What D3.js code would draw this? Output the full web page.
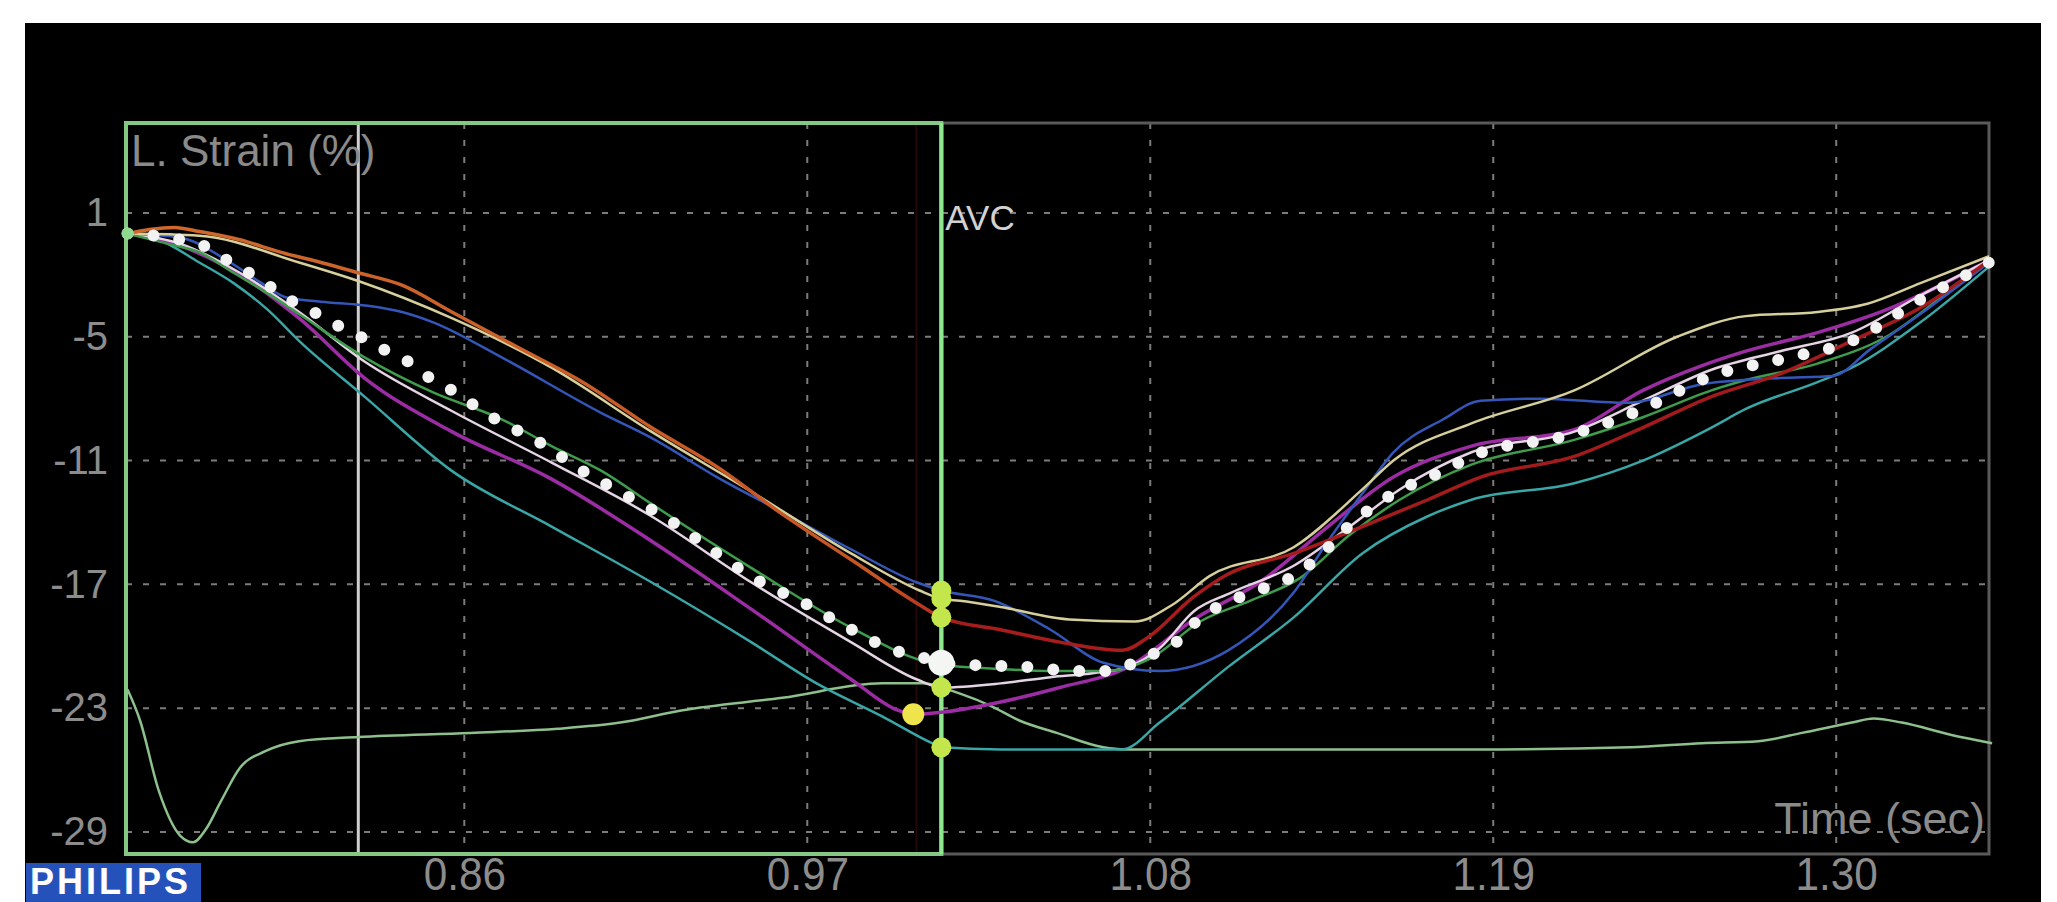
<!DOCTYPE html>
<html>
<head>
<meta charset="utf-8">
<script src="https://cdn.jsdelivr.net/npm/d3@7"></script>
<style>
  body { margin: 0; background: #fff; }
  svg { display: block; font-family: "Liberation Sans", Arial, sans-serif; }
</style>
</head>
<body>
<div id="chart"></div>
<script>
const strainTicks = [1, -5, -11, -17, -23, -29];
const timeTicks = [0.86, 0.97, 1.08, 1.19, 1.30];
const timeWindow = [0.7515, 1.349];
const strainWindow = [5.36, -30.07];
const avcTime = 1.013;
const markerTime = 0.826;
const peakLineTime = 1.005;

// segment traces, [time (sec), strain (%)]
const segOrange = [[0.752, 0.0], [0.759, 0.2], [0.767, 0.3], [0.775, 0.1], [0.788, -0.3], [0.801, -0.9], [0.814, -1.4], [0.826, -1.9], [0.840, -2.5], [0.856, -3.8], [0.877, -5.5], [0.898, -7.2], [0.920, -9.4], [0.941, -11.3], [0.962, -13.6], [0.984, -15.8], [1.005, -17.9], [1.013, -18.6], [1.032, -19.2], [1.051, -19.8], [1.071, -20.2], [1.079, -19.6], [1.094, -17.6], [1.105, -16.5], [1.126, -15.5], [1.148, -14.2], [1.169, -12.9], [1.186, -11.8], [1.216, -10.8], [1.238, -9.4], [1.260, -7.9], [1.282, -6.8], [1.305, -5.2], [1.327, -3.6], [1.349, -1.3]];
const segBeige = [[0.752, 0.0], [0.775, -0.1], [0.807, -1.4], [0.826, -2.3], [0.856, -4.1], [0.888, -6.5], [0.920, -9.6], [0.952, -12.5], [0.984, -15.5], [1.006, -17.3], [1.013, -17.7], [1.019, -17.8], [1.032, -18.1], [1.054, -18.7], [1.075, -18.8], [1.087, -18.0], [1.099, -16.6], [1.126, -15.2], [1.148, -12.4], [1.158, -11.0], [1.183, -9.2], [1.216, -7.6], [1.249, -5.0], [1.271, -4.0], [1.294, -3.8], [1.310, -3.4], [1.327, -2.4], [1.349, -1.1]];
const segBlue = [[0.752, 0.0], [0.769, -0.2], [0.785, -1.4], [0.795, -2.4], [0.803, -3.1], [0.814, -3.3], [0.829, -3.5], [0.840, -3.8], [0.850, -4.3], [0.872, -6.0], [0.904, -8.7], [0.920, -9.9], [0.941, -11.8], [0.962, -13.5], [0.984, -15.3], [1.005, -16.9], [1.013, -17.3], [1.030, -17.8], [1.048, -19.2], [1.065, -20.8], [1.083, -21.2], [1.105, -20.2], [1.126, -17.4], [1.137, -14.9], [1.148, -12.6], [1.158, -10.6], [1.174, -9.0], [1.186, -8.1], [1.205, -8.0], [1.233, -8.2], [1.257, -7.3], [1.282, -7.0], [1.299, -6.9], [1.311, -5.6], [1.327, -3.9], [1.349, -1.4]];
const segGreen = [[0.752, 0.0], [0.765, -0.5], [0.775, -0.9], [0.786, -1.9], [0.797, -2.9], [0.807, -3.9], [0.828, -6.0], [0.850, -7.7], [0.872, -9.0], [0.888, -10.3], [0.904, -11.5], [0.920, -13.1], [0.952, -16.2], [0.984, -19.1], [1.007, -20.7], [1.013, -20.9], [1.032, -21.1], [1.048, -21.2], [1.066, -21.2], [1.080, -20.6], [1.096, -18.8], [1.112, -17.8], [1.128, -16.7], [1.144, -14.6], [1.160, -12.9], [1.183, -11.2], [1.216, -10.0], [1.238, -8.9], [1.260, -7.6], [1.271, -7.1], [1.294, -6.3], [1.316, -5.0], [1.337, -2.7], [1.349, -1.4]];
const segWhite = [[0.752, 0.0], [0.769, -0.5], [0.788, -1.9], [0.807, -3.8], [0.828, -6.2], [0.856, -8.6], [0.888, -11.1], [0.920, -13.7], [0.952, -16.9], [0.984, -19.8], [1.005, -21.6], [1.013, -22.0], [1.032, -21.8], [1.048, -21.5], [1.062, -21.3], [1.073, -21.0], [1.083, -20.1], [1.094, -18.3], [1.106, -17.4], [1.126, -16.1], [1.144, -14.2], [1.160, -12.4], [1.183, -10.6], [1.216, -9.6], [1.238, -8.1], [1.260, -6.6], [1.282, -5.7], [1.305, -4.8], [1.327, -3.0], [1.349, -1.3]];
const segPurple = [[0.752, 0.0], [0.769, -0.6], [0.788, -2.0], [0.807, -4.1], [0.828, -7.0], [0.856, -9.6], [0.888, -11.9], [0.920, -14.9], [0.952, -18.2], [0.984, -21.6], [0.999, -23.1], [1.004, -23.3], [1.013, -23.2], [1.032, -22.7], [1.051, -22.0], [1.073, -21.0], [1.094, -18.7], [1.116, -16.8], [1.137, -14.2], [1.158, -11.8], [1.183, -10.3], [1.216, -9.5], [1.238, -7.6], [1.257, -6.4], [1.271, -5.7], [1.294, -4.8], [1.316, -3.7], [1.349, -1.3]];
const segCyan = [[0.752, 0.0], [0.762, -0.3], [0.775, -1.4], [0.786, -2.4], [0.797, -3.7], [0.807, -5.2], [0.828, -7.9], [0.856, -11.5], [0.888, -14.2], [0.920, -16.9], [0.952, -19.8], [0.973, -21.8], [0.994, -23.4], [1.010, -24.7], [1.013, -24.9], [1.032, -25.0], [1.051, -25.0], [1.071, -25.0], [1.083, -23.7], [1.105, -21.0], [1.126, -18.6], [1.148, -15.5], [1.169, -13.7], [1.183, -12.9], [1.216, -12.1], [1.238, -11.0], [1.260, -9.4], [1.271, -8.5], [1.294, -7.2], [1.305, -6.5], [1.327, -4.3], [1.349, -1.6]];
const segAverage = [[0.752, 0.0], [0.769, -0.3], [0.778, -0.7], [0.784, -1.3], [0.791, -1.9], [0.798, -2.6], [0.805, -3.3], [0.813, -3.9], [0.820, -4.5], [0.828, -5.1], [0.834, -5.6], [0.842, -6.2], [0.848, -6.9], [0.856, -7.6], [0.869, -8.9], [0.884, -10.1], [0.898, -11.5], [0.912, -12.7], [0.927, -14.0], [0.940, -15.4], [0.954, -16.8], [0.969, -17.9], [0.983, -19.1], [0.998, -20.2], [1.006, -20.5], [1.013, -20.8], [1.022, -20.9], [1.040, -21.0], [1.057, -21.2], [1.066, -21.2], [1.075, -20.8], [1.082, -20.3], [1.090, -19.6], [1.096, -18.6], [1.103, -18.0], [1.118, -17.1], [1.126, -16.6], [1.133, -15.8], [1.145, -14.0], [1.158, -12.6], [1.174, -11.5], [1.183, -10.8], [1.216, -9.7], [1.238, -8.5], [1.260, -6.9], [1.282, -6.1], [1.305, -5.2], [1.327, -3.2], [1.343, -1.9], [1.349, -1.4]];
// ecg overlay, drawn on the strain scale
const ecgTrace = [[0.752, -22.1], [0.756, -23.6], [0.762, -27.0], [0.769, -29.2], [0.773, -29.5], [0.777, -28.9], [0.782, -27.5], [0.788, -25.9], [0.796, -25.1], [0.807, -24.6], [0.826, -24.4], [0.862, -24.2], [0.890, -24.0], [0.910, -23.7], [0.930, -23.1], [0.962, -22.5], [0.994, -21.8], [1.007, -21.8], [1.019, -22.3], [1.029, -22.9], [1.038, -23.6], [1.050, -24.2], [1.065, -24.9], [1.072, -25.0], [1.128, -25.0], [1.192, -25.0], [1.234, -24.9], [1.257, -24.7], [1.275, -24.6], [1.289, -24.2], [1.305, -23.7], [1.312, -23.5], [1.321, -23.7], [1.337, -24.3], [1.350, -24.7]];

const segmentColors = {
  beige: `#d6cf9c`,
  blue: `#3456b8`,
  orange: `url(#orangeRed)`,
  green: `#3e9c4c`,
  white: `#e4d4e4`,
  purple: `#9c2ca4`,
  cyan: `#3aa6a6`
};

class StrainChart {
  constructor(el) {
    this.el = el;
    this.width = 2057;
    this.height = 902;
    this.segments = [
      { key: `cyan`, data: segCyan },
      { key: `purple`, data: segPurple },
      { key: `white`, data: segWhite },
      { key: `green`, data: segGreen },
      { key: `blue`, data: segBlue },
      { key: `beige`, data: segBeige },
      { key: `orange`, data: segOrange }
    ];
  }

  render() {
    this.svg = d3.select(this.el).append(`svg`)
      .attr(`width`, this.width)
      .attr(`height`, this.height);

    this.x = d3.scaleLinear().domain(timeWindow).range([126, 1989]);
    this.y = d3.scaleLinear().domain(strainWindow).range([123, 854]);
    this.line = d3.line()
      .x((d) => this.x(d[0]))
      .y((d) => this.y(d[1]))
      .curve(d3.curveMonotoneX);

    this.drawBackground();
    this.drawGrid();
    this.drawFrame();
    this.drawTraces();
    this.drawMarkers();
    this.drawAxes();
    this.drawLabels();
  }

  drawBackground() {
    this.svg.append(`rect`)
      .attr(`width`, this.width).attr(`height`, this.height).attr(`fill`, `#fff`);
    this.svg.append(`rect`)
      .attr(`x`, 25).attr(`y`, 23)
      .attr(`width`, 2016).attr(`height`, this.height - 23)
      .attr(`fill`, `#000`);
  }

  drawGrid() {
    const g = this.svg.append(`g`).attr(`class`, `grid`);
    const [t0, t1] = timeWindow.map(this.x);
    const [s0, s1] = strainWindow.map(this.y);

    g.selectAll(`.grid__h`)
        .data(strainTicks)
      .enter().append(`line`)
        .attr(`class`, `grid__h`)
        .attr(`x1`, t0).attr(`x2`, t1)
        .attr(`y1`, (d) => this.y(d)).attr(`y2`, (d) => this.y(d));

    g.selectAll(`.grid__v`)
        .data(timeTicks)
      .enter().append(`line`)
        .attr(`class`, `grid__v`)
        .attr(`x1`, (d) => this.x(d)).attr(`x2`, (d) => this.x(d))
        .attr(`y1`, s0).attr(`y2`, s1);

    g.selectAll(`line`)
      .attr(`stroke`, `#7c7c7c`)
      .attr(`stroke-width`, 2)
      .attr(`stroke-dasharray`, `6 11`);
  }

  drawFrame() {
    const [t0, t1] = timeWindow.map(this.x);
    const [s0, s1] = strainWindow.map(this.y);
    const avc = this.x(avcTime);

    this.svg.append(`rect`)
      .attr(`x`, t0).attr(`y`, s0)
      .attr(`width`, t1 - t0).attr(`height`, s1 - s0)
      .attr(`fill`, `none`).attr(`stroke`, `#5a5a5a`).attr(`stroke-width`, 3);

    this.svg.append(`line`)
      .attr(`x1`, this.x(peakLineTime)).attr(`x2`, this.x(peakLineTime))
      .attr(`y1`, s0).attr(`y2`, s1)
      .attr(`stroke`, `#240709`).attr(`stroke-width`, 2);

    this.svg.append(`line`)
      .attr(`x1`, this.x(markerTime)).attr(`x2`, this.x(markerTime))
      .attr(`y1`, s0).attr(`y2`, s1)
      .attr(`stroke`, `#cfcfcf`).attr(`stroke-width`, 3);

    this.svg.append(`rect`)
      .attr(`x`, t0).attr(`y`, s0)
      .attr(`width`, avc - t0).attr(`height`, s1 - s0)
      .attr(`fill`, `none`).attr(`stroke`, `#84c884`).attr(`stroke-width`, 4);

    this.svg.append(`line`)
      .attr(`x1`, avc).attr(`x2`, avc)
      .attr(`y1`, s0).attr(`y2`, s1)
      .attr(`stroke`, `#8ee68e`).attr(`stroke-width`, 4);
  }

  drawTraces() {
    const [t0, t1] = timeWindow.map(this.x);
    const split = (this.x(avcTime) - t0) / (t1 - t0);

    const grad = this.svg.append(`defs`).append(`linearGradient`)
      .attr(`id`, `orangeRed`)
      .attr(`gradientUnits`, `userSpaceOnUse`)
      .attr(`x1`, t0).attr(`x2`, t1).attr(`y1`, 0).attr(`y2`, 0);
    grad.append(`stop`).attr(`offset`, 0).attr(`stop-color`, `#cf6a2c`);
    grad.append(`stop`).attr(`offset`, split - 0.03).attr(`stop-color`, `#c65524`);
    grad.append(`stop`).attr(`offset`, split + 0.01).attr(`stop-color`, `#a81c1c`);
    grad.append(`stop`).attr(`offset`, 1).attr(`stop-color`, `#a01a1e`);

    this.svg.append(`path`)
      .datum(ecgTrace)
      .attr(`d`, this.line)
      .attr(`fill`, `none`)
      .attr(`stroke`, `#8ec08e`)
      .attr(`stroke-width`, 2.5);

    this.svg.selectAll(`.segment`)
        .data(this.segments)
      .enter().append(`path`)
        .attr(`class`, (d) => `segment segment--${d.key}`)
        .attr(`d`, (d) => this.line(d.data))
        .attr(`fill`, `none`)
        .attr(`stroke`, (d) => segmentColors[d.key])
        .attr(`stroke-width`, (d) => (d.key === `orange` || d.key === `purple`) ? 3.5 : 2.5)
        .attr(`stroke-linejoin`, `round`);

    this.svg.append(`path`)
      .datum(segAverage)
      .attr(`d`, this.line)
      .attr(`fill`, `none`)
      .attr(`stroke`, `#f2f2f2`)
      .attr(`stroke-width`, 12)
      .attr(`stroke-linecap`, `round`)
      .attr(`stroke-dasharray`, `0 26`);
  }

  valueAt(data, t) {
    const i = d3.bisector((d) => d[0]).left(data, t);
    if (i <= 0) return data[0][1];
    if (i >= data.length) return data[data.length - 1][1];
    const a = data[i - 1];
    const b = data[i];
    return a[1] + (b[1] - a[1]) * (t - a[0]) / (b[0] - a[0]);
  }

  drawMarkers() {
    const avc = this.x(avcTime);
    const atAvc = this.segments.filter((d) => d.key !== `purple`);
    const peak = d3.least(segPurple.filter((d) => d[0] <= avcTime), (d) => d[1]);

    this.svg.append(`circle`)
      .attr(`cx`, this.x(segAverage[0][0])).attr(`cy`, this.y(segAverage[0][1]))
      .attr(`r`, 6).attr(`fill`, `#8fd88f`);

    this.svg.selectAll(`.avc-dot`)
        .data(atAvc)
      .enter().append(`circle`)
        .attr(`class`, `avc-dot`)
        .attr(`cx`, avc)
        .attr(`cy`, (d) => this.y(this.valueAt(d.data, avcTime)))
        .attr(`r`, 10)
        .attr(`fill`, `#c2e64c`);

    this.svg.append(`circle`)
      .attr(`cx`, this.x(peak[0])).attr(`cy`, this.y(peak[1]))
      .attr(`r`, 11).attr(`fill`, `#f0e44c`);

    this.svg.append(`circle`)
      .attr(`cx`, avc).attr(`cy`, this.y(this.valueAt(segAverage, avcTime)))
      .attr(`r`, 13).attr(`fill`, `#f4f6f4`);
  }

  drawAxes() {
    const yAxis = d3.axisLeft(this.y)
      .tickValues(strainTicks)
      .tickFormat((d) => `${d}`)
      .tickSize(0)
      .tickPadding(18);

    const yg = this.svg.append(`g`)
      .attr(`transform`, `translate(${this.x(timeWindow[0])},0)`)
      .call(yAxis);
    yg.select(`.domain`).remove();
    yg.selectAll(`text`)
      .attr(`fill`, `#8c8c8c`)
      .style(`font-size`, `40px`)
      .style(`font-family`, `"Liberation Sans", Arial, sans-serif`);

    const xAxis = d3.axisBottom(this.x)
      .tickValues(timeTicks)
      .tickFormat(d3.format(`.2f`))
      .tickSize(0)
      .tickPadding(3);

    const xg = this.svg.append(`g`)
      .attr(`transform`, `translate(0,${this.y(strainWindow[1])})`)
      .call(xAxis);
    xg.select(`.domain`).remove();
    xg.selectAll(`text`)
      .attr(`fill`, `#8c8c8c`)
      .attr(`transform`, `scale(0.9,1)`)
      .style(`font-size`, `47px`)
      .style(`font-family`, `"Liberation Sans", Arial, sans-serif`);
  }

  drawLabels() {
    this.svg.append(`text`)
      .attr(`x`, 131).attr(`y`, 166)
      .attr(`fill`, `#8a8a8a`)
      .style(`font-size`, `44px`)
      .text(`L. Strain (%)`);

    this.svg.append(`text`)
      .attr(`x`, 1985).attr(`y`, 834)
      .attr(`text-anchor`, `end`)
      .attr(`fill`, `#8a8a8a`)
      .style(`font-size`, `45px`)
      .text(`Time (sec)`);

    this.svg.append(`text`)
      .attr(`x`, this.x(avcTime) + 4).attr(`y`, 230)
      .attr(`fill`, `#d2d2d2`)
      .style(`font-size`, `35px`)
      .text(`AVC`);

    this.svg.append(`rect`)
      .attr(`x`, 26).attr(`y`, 863)
      .attr(`width`, 175).attr(`height`, 39)
      .attr(`fill`, `#2452ba`);

    this.svg.append(`text`)
      .attr(`x`, 30).attr(`y`, 894)
      .attr(`fill`, `#fff`)
      .attr(`letter-spacing`, 3)
      .style(`font-size`, `36px`)
      .style(`font-weight`, `bold`)
      .text(`PHILIPS`);
  }
}

new StrainChart(`#chart`).render();
</script>
</body>
</html>
